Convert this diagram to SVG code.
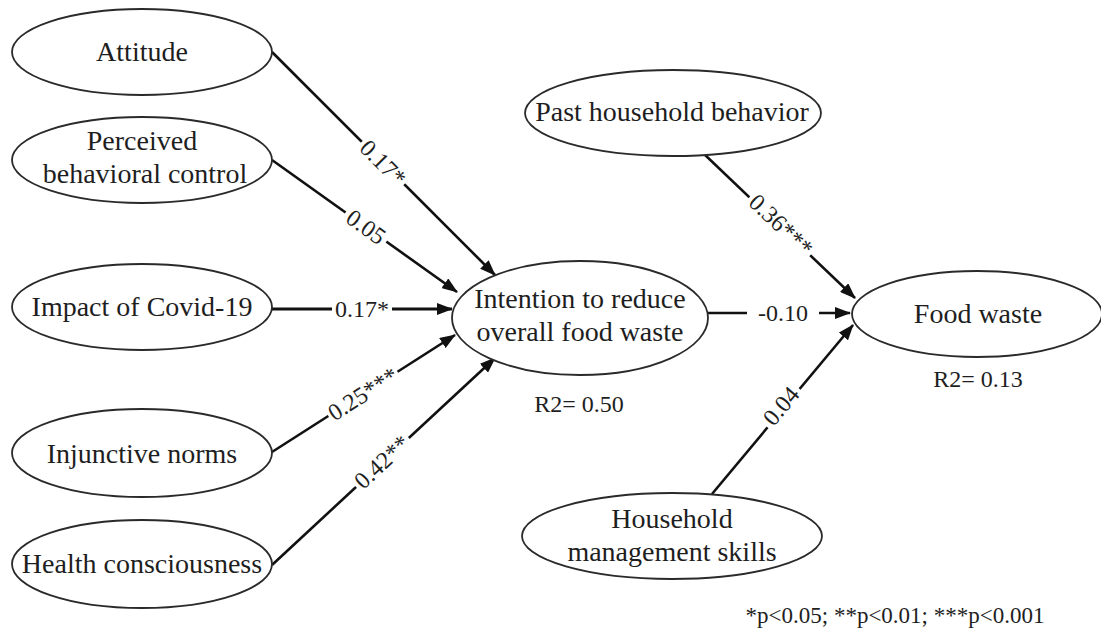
<svg xmlns="http://www.w3.org/2000/svg" width="1101" height="635" viewBox="0 0 1101 635">
<style>
.node ellipse{fill:#fff;stroke:#2a2a2a;stroke-width:1.8}
.nt{font-family:"Liberation Serif","Times New Roman",serif;font-size:28px;fill:#1e1e1e;text-anchor:middle}
.lb{font-family:"Liberation Serif","Times New Roman",serif;font-size:24px;fill:#1e1e1e;text-anchor:middle}
.edge{stroke:#111;stroke-width:2.6;fill:none}
.bg{fill:#fff}
</style>
<defs>
<marker id="ah" markerUnits="userSpaceOnUse" markerWidth="16" markerHeight="12" refX="15" refY="6" orient="auto">
<path d="M0,0 L16,6 L0,12 z" fill="#111"/>
</marker>
</defs>
<rect width="1101" height="635" fill="#fff"/>
<g id="connectors">
<line class="edge" x1="272" y1="52" x2="495" y2="275" marker-end="url(#ah)"/>
<line class="edge" x1="272" y1="160" x2="457" y2="292" marker-end="url(#ah)"/>
<line class="edge" x1="272" y1="309" x2="452" y2="309" marker-end="url(#ah)" style="stroke-width:3.2"/>
<line class="edge" x1="272" y1="452" x2="455" y2="335" marker-end="url(#ah)"/>
<line class="edge" x1="272" y1="565" x2="495" y2="358" marker-end="url(#ah)"/>
<line class="edge" x1="708" y1="313" x2="850" y2="313" marker-end="url(#ah)"/>
<line class="edge" x1="703" y1="153" x2="855" y2="298" marker-end="url(#ah)"/>
<line class="edge" x1="712" y1="494" x2="853" y2="325" marker-end="url(#ah)"/>
<g transform="translate(383,163) rotate(45)"><rect class="bg" x="-30" y="-10" width="60" height="20"/><text class="lb" y="8">0.17*</text></g>
<g transform="translate(366,227) rotate(35.5)"><rect class="bg" x="-25" y="-10" width="50" height="20"/><text class="lb" y="8">0.05</text></g>
<g transform="translate(362,309)"><rect class="bg" x="-30" y="-10" width="60" height="20"/><text class="lb" y="8">0.17*</text></g>
<g transform="translate(363,394) rotate(-32.6)"><rect class="bg" x="-41" y="-10" width="82" height="20"/><text class="lb" y="8">0.25***</text></g>
<g transform="translate(382,462) rotate(-42.9)"><rect class="bg" x="-36" y="-10" width="72" height="20"/><text class="lb" y="8">0.42**</text></g>
<g transform="translate(783,313)"><rect class="bg" x="-36" y="-10" width="72" height="20"/><text class="lb" y="8">-0.10</text></g>
<g transform="translate(781,225) rotate(43.6)"><rect class="bg" x="-42" y="-10" width="84" height="20"/><text class="lb" y="8">0.36***</text></g>
<g transform="translate(781,406) rotate(-50)"><rect class="bg" x="-25" y="-10" width="50" height="20"/><text class="lb" y="8">0.04</text></g>
</g>
<g id="attitude" class="node"><ellipse cx="142" cy="52" rx="130" ry="43"/><text class="nt" x="142" y="61">Attitude</text></g>
<g id="pbc" class="node"><ellipse cx="142" cy="160" rx="130" ry="43"/><text class="nt" x="142" y="150">Perceived</text><text class="nt" x="145" y="183">behavioral control</text></g>
<g id="covid" class="node"><ellipse cx="142" cy="307" rx="130" ry="43"/><text class="nt" x="142" y="316">Impact of Covid-19</text></g>
<g id="injunctive" class="node"><ellipse cx="142" cy="453" rx="130" ry="44"/><text class="nt" x="142" y="463">Injunctive norms</text></g>
<g id="health" class="node"><ellipse cx="142" cy="564" rx="130" ry="44"/><text class="nt" x="142" y="573">Health consciousness</text></g>
<g id="intention" class="node"><ellipse cx="580" cy="318" rx="128" ry="57"/><text class="nt" x="580" y="308">Intention to reduce</text><text class="nt" x="580" y="341">overall food waste</text></g>
<g id="past" class="node"><ellipse cx="673" cy="113" rx="148" ry="43"/><text class="nt" x="672" y="121">Past household behavior</text></g>
<g id="foodwaste" class="node"><ellipse cx="977" cy="314" rx="125" ry="43"/><text class="nt" x="978" y="323">Food waste</text></g>
<g id="skills" class="node"><ellipse cx="672" cy="536" rx="150" ry="43"/><text class="nt" x="672" y="528">Household</text><text class="nt" x="672" y="561">management skills</text></g>
<text class="lb" x="579" y="412">R2= 0.50</text>
<text class="lb" x="978" y="387">R2= 0.13</text>
<text class="lb" x="895" y="623" style="font-size:23px">*p&lt;0.05; **p&lt;0.01; ***p&lt;0.001</text>
</svg>
